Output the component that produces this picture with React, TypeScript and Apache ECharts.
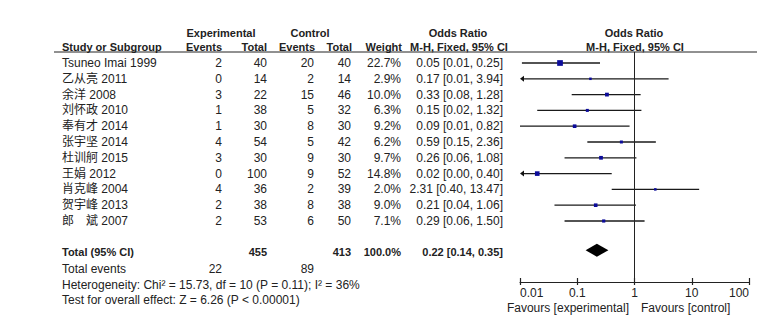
import React, { useEffect, useRef } from "react";
import * as echarts from "echarts";

// ---- data ----
const studies = [
  "Tsuneo Imai 1999",
  "乙从亮 2011",
  "余洋 2008",
  "刘怀政 2010",
  "奉有才 2014",
  "张宇坚 2014",
  "杜训舸 2015",
  "王娟 2012",
  "肖克峰 2004",
  "贺宇峰 2013",
  "郎　斌 2007",
];
const expEvents = [2, 0, 3, 1, 1, 4, 3, 0, 4, 2, 2];
const expTotal = [40, 14, 22, 38, 30, 54, 30, 100, 36, 38, 53];
const ctlEvents = [20, 2, 15, 5, 8, 5, 9, 9, 2, 8, 6];
const ctlTotal = [40, 14, 46, 32, 30, 42, 30, 52, 39, 38, 50];
const weights = [22.7, 2.9, 10.0, 6.3, 9.2, 6.2, 9.7, 14.8, 2.0, 9.0, 7.1];
const oddsRatio = [0.05, 0.17, 0.33, 0.15, 0.09, 0.59, 0.26, 0.02, 2.31, 0.21, 0.29];
const ciLow = [0.0108, 0.007, 0.08, 0.02, 0.01, 0.15, 0.06, 0.001, 0.4, 0.04, 0.06];
const ciHigh = [0.25, 3.94, 1.28, 1.32, 0.82, 2.36, 1.08, 0.4, 13.47, 1.06, 1.5];

const totalExp = 455;
const totalCtl = 413;
const totalEventsExp = 22;
const totalEventsCtl = 89;
const totalOR = 0.22;
const totalLow = 0.14;
const totalHigh = 0.35;
const heterogeneityText = "Heterogeneity: Chi² = 15.73, df = 10 (P = 0.11); I² = 36%";
const overallEffectText = "Test for overall effect: Z = 6.26 (P < 0.00001)";
const tickLabels = ["0.01", "0.1", "1", "10", "100"];
const favourLeft = "Favours [experimental]";
const favourRight = "Favours [control]";

// ---- layout ----
const W = 774;
const H = 322;
const GRID_TOP = 52;
const GRID_BOTTOM_Y = 282;
const GRID_LEFT = 520;
const GRID_RIGHT_X = 749;
const Y_MIN = -0.696;
const Y_MAX = 13.861;
const TOTAL_ROW = 11.85;
const AXIS_MIN = 0.01;
const AXIS_MAX = 100;

const FONT = "'Liberation Sans', Arial, 'Noto Sans CJK SC', sans-serif";
const TXT = "#222";

const rowY = (r: number) =>
  GRID_TOP + ((r - Y_MIN) / (Y_MAX - Y_MIN)) * (GRID_BOTTOM_Y - GRID_TOP);

function txt(text: string, x: number, y: number, align: string, bold = false, size = 12): any {
  return {
    type: "text",
    x,
    y,
    silent: true,
    style: {
      text,
      fill: TXT,
      font: `${bold ? "bold " : ""}${size}px ${FONT}`,
      align,
      textAlign: align,
      verticalAlign: "middle",
      textVerticalAlign: "middle",
    },
  };
}

const fmtCI = (o: number, l: number, h: number) =>
  `${o.toFixed(2)} [${l.toFixed(2)}, ${h.toFixed(2)}]`;

export default function App() {
  const ref = useRef<HTMLDivElement>(null);

  useEffect(() => {
    if (!ref.current) return;
    const chart = echarts.init(ref.current, undefined, { renderer: "svg" });

    const COL = {
      study: 62,
      expEv: 222,
      expTot: 267,
      ctlEv: 314,
      ctlTot: 351,
      weight: 401,
      ci: 503,
    };

    const g: any[] = [];
    const H1 = 33;
    const H2 = 47;
    // header row 1
    g.push(txt("Experimental", 221, H1, "center", true, 11));
    g.push(txt("Control", 310, H1, "center", true, 11));
    g.push(txt("Odds Ratio", 458, H1, "center", true, 11));
    g.push(txt("Odds Ratio", 634, H1, "center", true, 11));
    // header row 2
    g.push(txt("Study or Subgroup", COL.study, H2, "left", true, 11));
    g.push(txt("Events", COL.expEv, H2, "right", true, 11));
    g.push(txt("Total", COL.expTot, H2, "right", true, 11));
    g.push(txt("Events", COL.ctlEv + 1, H2, "right", true, 11));
    g.push(txt("Total", COL.ctlTot + 1, H2, "right", true, 11));
    g.push(txt("Weight", COL.weight + 1, H2, "right", true, 11));
    g.push(txt("M-H, Fixed, 95% CI", 459, H2, "center", true, 11));
    g.push(txt("M-H, Fixed, 95% CI", 635, H2, "center", true, 11));
    // header underline
    g.push({
      type: "line",
      silent: true,
      shape: { x1: 54, y1: GRID_TOP, x2: 757, y2: GRID_TOP },
      style: { stroke: "#222", lineWidth: 1 },
    });

    studies.forEach((s, i) => {
      const y = rowY(i);
      g.push(txt(s, COL.study, y, "left"));
      g.push(txt(String(expEvents[i]), COL.expEv, y, "right"));
      g.push(txt(String(expTotal[i]), COL.expTot, y, "right"));
      g.push(txt(String(ctlEvents[i]), COL.ctlEv, y, "right"));
      g.push(txt(String(ctlTotal[i]), COL.ctlTot, y, "right"));
      g.push(txt(weights[i].toFixed(1) + "%", COL.weight, y, "right"));
      g.push(txt(fmtCI(oddsRatio[i], ciLow[i], ciHigh[i]), COL.ci, y, "right"));
    });

    const ty = rowY(TOTAL_ROW) + 2;
    g.push(txt("Total (95% CI)", COL.study, ty, "left", true, 11));
    g.push(txt(String(totalExp), COL.expTot, ty, "right", true, 11));
    g.push(txt(String(totalCtl), COL.ctlTot, ty, "right", true, 11));
    g.push(txt("100.0%", COL.weight, ty, "right", true, 11));
    g.push(txt(fmtCI(totalOR, totalLow, totalHigh), COL.ci, ty, "right", true, 11));
    g.push(txt("Total events", COL.study, 269, "left"));
    g.push(txt(String(totalEventsExp), COL.expEv, 269, "right"));
    g.push(txt(String(totalEventsCtl), COL.ctlEv, 269, "right"));
    g.push(txt(heterogeneityText, COL.study, 285, "left"));
    g.push(txt(overallEffectText, COL.study, 300, "left"));
    g.push(txt(favourLeft, 629, 308, "right"));
    g.push(txt(favourRight, 641, 308, "left"));

    const studyData = studies.map((_, i) => [oddsRatio[i], ciLow[i], ciHigh[i], weights[i], i]);

    const xBase = {
      type: "log",
      logBase: 10,
      min: AXIS_MIN,
      max: AXIS_MAX,
      interval: 1,
      gridIndex: 0,
      position: "bottom",
      splitLine: { show: false },
      minorTick: { show: false },
    };

    chart.setOption({
      animation: false,
      backgroundColor: "#fff",
      grid: {
        left: GRID_LEFT,
        right: W - GRID_RIGHT_X,
        top: GRID_TOP,
        bottom: H - GRID_BOTTOM_Y,
        containLabel: false,
      },
      xAxis: [
        {
          ...xBase,
          axisLine: { show: true, onZero: false, lineStyle: { color: "#222", width: 1 } },
          axisTick: { show: true, inside: false, length: 3, lineStyle: { color: "#222", width: 1.2 } },
          axisLabel: {
            show: true,
            margin: 5,
            color: TXT,
            fontSize: 12,
            fontFamily: FONT,
            alignMinLabel: "left",
            alignMaxLabel: "right",
            formatter: (v: number) => {
              const k = Math.round(Math.log10(v)) + 2;
              return tickLabels[k] ?? "";
            },
          },
        },
        {
          ...xBase,
          axisLine: { show: false, onZero: false },
          axisTick: { show: true, inside: true, length: 4, lineStyle: { color: "#222", width: 1.2 } },
          axisLabel: { show: false },
        },
      ],
      yAxis: {
        type: "value",
        min: Y_MIN,
        max: Y_MAX,
        inverse: true,
        show: false,
        axisLine: { onZero: false },
        splitLine: { show: false },
      },
      graphic: { elements: g },
      series: [
        {
          type: "custom",
          xAxisIndex: 0,
          yAxisIndex: 0,
          clip: false,
          encode: { x: [0, 1, 2], y: 4 },
          data: studyData,
          renderItem: (params: any, api: any) => {
            const or = api.value(0);
            const lo = api.value(1);
            const hi = api.value(2);
            const w = api.value(3);
            const r = api.value(4);
            const clippedLeft = lo < AXIS_MIN;
            const clippedRight = hi > AXIS_MAX;
            const p0 = api.coord([Math.max(lo, AXIS_MIN), r]);
            const p1 = api.coord([Math.min(hi, AXIS_MAX), r]);
            const pc = api.coord([or, r]);
            const side = Math.max(2.5, 12 * Math.sqrt(w / 100));
            const children: any[] = [
              {
                type: "line",
                shape: { x1: p0[0] + (clippedLeft ? 2 : 0), y1: p0[1], x2: p1[0], y2: p1[1] },
                style: { stroke: "#1a1a1a", lineWidth: 1.3 },
              },
              {
                type: "rect",
                shape: { x: pc[0] - side / 2, y: pc[1] - side / 2, width: side, height: side },
                style: { fill: "#0b0b9a" },
              },
            ];
            if (clippedLeft) {
              children.push({
                type: "polygon",
                shape: { points: [[p0[0], p0[1]], [p0[0] + 4, p0[1] - 3], [p0[0] + 4, p0[1] + 3]] },
                style: { fill: "#111" },
              });
            }
            if (clippedRight) {
              children.push({
                type: "polygon",
                shape: { points: [[p1[0], p1[1]], [p1[0] - 4, p1[1] - 3], [p1[0] - 4, p1[1] + 3]] },
                style: { fill: "#111" },
              });
            }
            return { type: "group", children };
          },
          markLine: {
            silent: true,
            symbol: "none",
            label: { show: false },
            lineStyle: { color: "#222", width: 1, type: "solid" },
            data: [{ xAxis: 1 }],
          },
        },
        {
          type: "custom",
          xAxisIndex: 0,
          yAxisIndex: 0,
          clip: false,
          encode: { x: [0, 1, 2], y: 3 },
          data: [[totalOR, totalLow, totalHigh, TOTAL_ROW]],
          renderItem: (params: any, api: any) => {
            const r = api.value(3);
            const pl = api.coord([api.value(1), r]);
            const pr = api.coord([api.value(2), r]);
            const pc = api.coord([api.value(0), r]);
            const hh = 6.5;
            return {
              type: "polygon",
              shape: {
                points: [
                  [pl[0], pl[1]],
                  [pc[0], pc[1] - hh],
                  [pr[0], pr[1]],
                  [pc[0], pc[1] + hh],
                ],
              },
              style: { fill: "#000" },
            };
          },
        },
      ],
    });

    return () => chart.dispose();
  }, []);

  return (
    <div
      ref={ref}
      style={{ position: "fixed", left: 0, top: 0, width: W, height: H, background: "#fff" }}
    />
  );
}
